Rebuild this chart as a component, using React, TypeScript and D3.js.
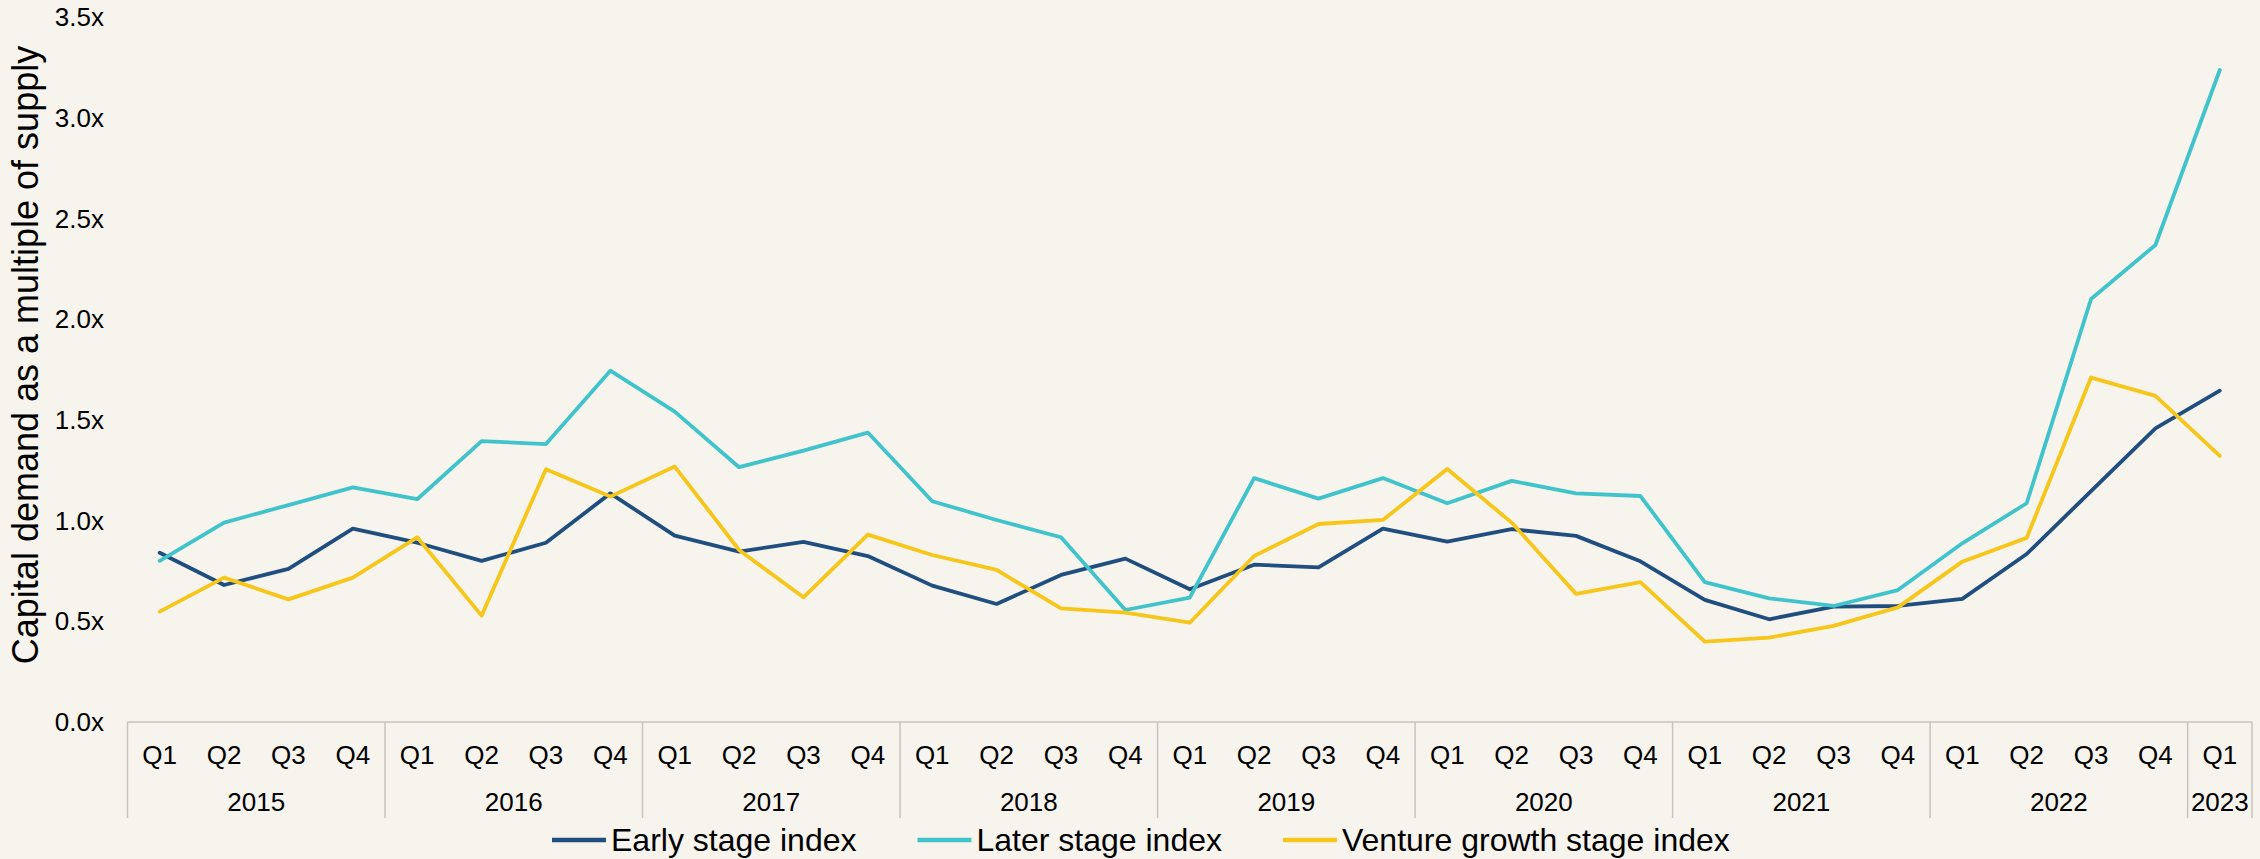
import React, { useEffect, useRef } from "react";
import * as d3 from "d3";

const years = ["2015", "2016", "2017", "2018", "2019", "2020", "2021", "2022", "2023"];
const quarters = ["Q1", "Q2", "Q3", "Q4"];
const quartersPerYear = [4, 4, 4, 4, 4, 4, 4, 4, 1];

const earlyStage = [
  0.84, 0.68, 0.76, 0.96, 0.89, 0.8, 0.89, 1.135, 0.925, 0.846, 0.894, 0.824, 0.677, 0.586,
  0.73, 0.811, 0.659, 0.781, 0.768, 0.96, 0.895, 0.957, 0.924, 0.798, 0.606, 0.51, 0.573,
  0.576, 0.611, 0.834, 1.146, 1.458, 1.645,
];
const laterStage = [
  0.8, 0.99, 1.077, 1.165, 1.106, 1.394, 1.38, 1.744, 1.541, 1.265, 1.347, 1.437, 1.096, 1.003,
  0.917, 0.556, 0.617, 1.211, 1.109, 1.211, 1.086, 1.197, 1.135, 1.122, 0.694, 0.614, 0.576,
  0.655, 0.887, 1.086, 2.1, 2.368, 3.237,
];
const ventureGrowth = [
  0.548, 0.717, 0.609, 0.717, 0.917, 0.528, 1.255, 1.119, 1.268, 0.854, 0.619, 0.93, 0.829,
  0.755, 0.564, 0.543, 0.493, 0.824, 0.983, 1.003, 1.256, 0.99, 0.636, 0.694, 0.399, 0.419,
  0.477, 0.569, 0.796, 0.914, 1.71, 1.619, 1.321,
];
const seriesNames = ["Early stage index", "Later stage index", "Venture growth stage index"];
const seriesColors = ["#1f4e7f", "#40c3cb", "#f6c61a"];
const yTicks = [0, 0.5, 1, 1.5, 2, 2.5, 3, 3.5];
const yTitle = "Capital demand as a multiple of supply";

const W = 2260;
const H = 859;
const FONT = "'Liberation Sans', Arial, Helvetica, sans-serif";

export default function App() {
  const ref = useRef<SVGSVGElement | null>(null);

  useEffect(() => {
    const svg = d3.select(ref.current);
    svg.selectAll("*").remove();

    const periods: { year: string; q: string; key: string }[] = [];
    years.forEach((y, yi) => {
      for (let k = 0; k < quartersPerYear[yi]; k++) {
        periods.push({ year: y, q: quarters[k], key: `${y}-${quarters[k]}` });
      }
    });

    const x = d3.scaleBand<string>().domain(periods.map((p) => p.key)).range([127.5, 2252]);
    const y = d3.scaleLinear().domain([0, 3.5]).range([722, 17]);
    const cx = (k: string) => (x(k) as number) + x.bandwidth() / 2;

    svg.append("rect").attr("width", W).attr("height", H).attr("fill", "#f7f4ee");

    // y tick labels
    svg
      .append("g")
      .selectAll("text")
      .data(yTicks)
      .join("text")
      .attr("x", 104)
      .attr("y", (d) => y(d))
      .attr("dy", "0.35em")
      .attr("text-anchor", "end")
      .attr("font-size", 26)
      .attr("font-family", FONT)
      .attr("fill", "#000")
      .text((d) => d3.format(".1f")(d) + "x");

    // y title
    svg
      .append("text")
      .attr("transform", `translate(38,355) rotate(-90)`)
      .attr("text-anchor", "middle")
      .attr("font-size", 36)
      .attr("font-family", FONT)
      .attr("fill", "#000")
      .text(yTitle);

    // axis line
    const axisColor = "#c8c4bc";
    const [r0, r1] = x.range();
    svg
      .append("line")
      .attr("x1", r0)
      .attr("x2", r1)
      .attr("y1", y(0))
      .attr("y2", y(0))
      .attr("stroke", axisColor)
      .attr("stroke-width", 1.5);

    // year group dividers
    const groupStarts: number[] = [];
    const groupCenters: { year: string; c: number }[] = [];
    years.forEach((yr) => {
      const ps = periods.filter((p) => p.year === yr);
      const s = x(ps[0].key) as number;
      const e = (x(ps[ps.length - 1].key) as number) + x.bandwidth();
      groupStarts.push(s);
      groupCenters.push({ year: yr, c: (s + e) / 2 });
    });
    groupStarts.push(r1);
    svg
      .append("g")
      .selectAll("line")
      .data(groupStarts)
      .join("line")
      .attr("x1", (d) => d)
      .attr("x2", (d) => d)
      .attr("y1", y(0))
      .attr("y2", 818)
      .attr("stroke", axisColor)
      .attr("stroke-width", 1.5);

    // quarter labels
    svg
      .append("g")
      .selectAll("text")
      .data(periods)
      .join("text")
      .attr("x", (d) => cx(d.key))
      .attr("y", 755)
      .attr("dy", "0.35em")
      .attr("text-anchor", "middle")
      .attr("font-size", 26)
      .attr("font-family", FONT)
      .attr("fill", "#000")
      .text((d) => d.q);

    // year labels
    svg
      .append("g")
      .selectAll("text")
      .data(groupCenters)
      .join("text")
      .attr("x", (d) => d.c)
      .attr("y", 802)
      .attr("dy", "0.35em")
      .attr("text-anchor", "middle")
      .attr("font-size", 26)
      .attr("font-family", FONT)
      .attr("fill", "#000")
      .text((d) => d.year);

    // lines
    const allSeries = [earlyStage, laterStage, ventureGrowth];
    const line = d3
      .line<number>()
      .x((_, i) => cx(periods[i].key))
      .y((d) => y(d));
    allSeries.forEach((s, si) => {
      svg
        .append("path")
        .attr("d", line(s) as string)
        .attr("fill", "none")
        .attr("stroke", seriesColors[si])
        .attr("stroke-width", 3.8)
        .attr("stroke-linejoin", "round")
        .attr("stroke-linecap", "round");
    });

    // legend
    const lg = svg.append("g");
    let lx = 552;
    const ly = 840;
    seriesNames.forEach((name, i) => {
      lg.append("line")
        .attr("x1", lx)
        .attr("x2", lx + 54)
        .attr("y1", ly)
        .attr("y2", ly)
        .attr("stroke", seriesColors[i])
        .attr("stroke-width", 4.5);
      const t = lg
        .append("text")
        .attr("x", lx + 59)
        .attr("y", ly)
        .attr("dy", "0.35em")
        .attr("font-size", 32)
        .attr("font-family", FONT)
        .attr("fill", "#000")
        .text(name);
      const w = (t.node() as SVGTextElement).getComputedTextLength();
      lx = lx + 59 + w + 61;
    });
  }, []);

  return (
    <svg
      ref={ref}
      width={W}
      height={H}
      style={{ position: "absolute", left: 0, top: 0, display: "block" }}
    />
  );
}
